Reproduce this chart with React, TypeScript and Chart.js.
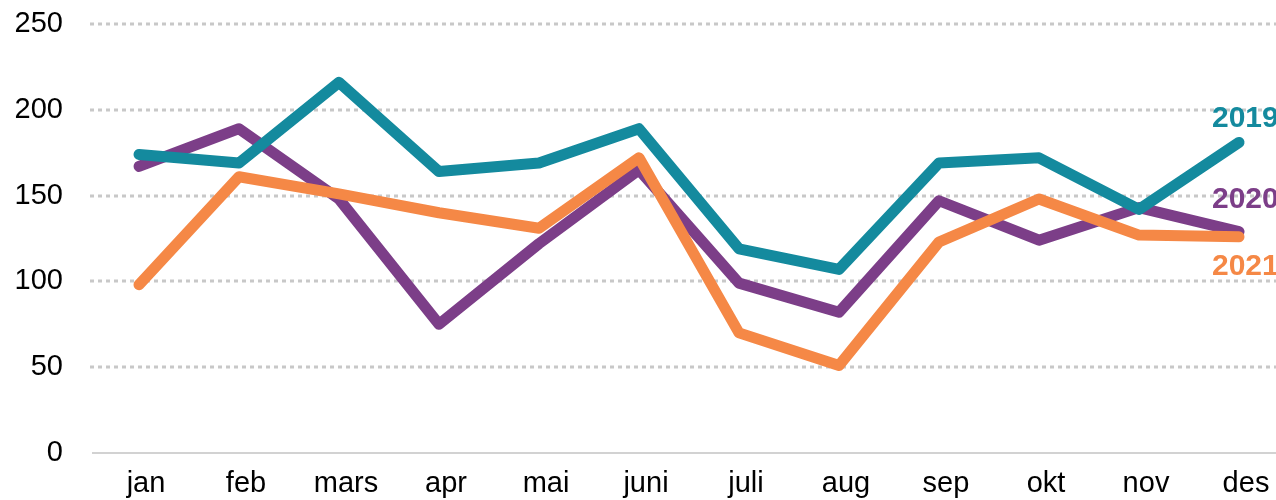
import { useEffect, useRef } from "react";
import { Chart, registerables } from "chart.js";

Chart.register(...registerables);

const months = ["jan", "feb", "mars", "apr", "mai", "juni", "juli", "aug", "sep", "okt", "nov", "des"];
const values2019 = [174, 169, 216, 164, 169, 189, 119, 107, 169, 172, 142, 181];
const values2020 = [167, 189, 148, 75, 122, 165, 99, 82, 147, 124, 143, 129];
const values2021 = [98, 161, 151, 140, 131, 172, 70, 51, 123, 148, 127, 126];
const yTickValues = [0, 50, 100, 150, 200, 250];
const seriesNames = ["2019", "2020", "2021"];

const TEAL = "#148a9e";
const PURPLE = "#7c3e88";
const ORANGE = "#f58846";
const FONT = "'Liberation Sans', Arial, sans-serif";

// pixel offsets of the year labels relative to each series' last point
const labelStyle = [
  { dx: -27, dy: -24, color: TEAL },
  { dx: -27, dy: -32, color: PURPLE },
  { dx: -27, dy: 30, color: ORANGE },
];

const gridPlugin = {
  id: "dottedGrid",
  beforeDatasetsDraw(chart: any) {
    const { ctx, chartArea, scales } = chart;
    const y = scales.y;
    ctx.save();
    for (const v of yTickValues) {
      const py = Math.round(y.getPixelForValue(v));
      ctx.beginPath();
      if (v === 0) {
        ctx.setLineDash([]);
        ctx.strokeStyle = "#d2d2d2";
        ctx.lineWidth = 2;
        ctx.moveTo(chartArea.left + 3, py);
      } else {
        ctx.setLineDash([4, 4]);
        ctx.strokeStyle = "#c8c8c8";
        ctx.lineWidth = 3;
        ctx.moveTo(chartArea.left + 1, py);
      }
      ctx.lineTo(chartArea.right + 20, py);
      ctx.stroke();
    }
    ctx.restore();
  },
};

const yearLabelPlugin = {
  id: "yearLabels",
  afterDatasetsDraw(chart: any) {
    const { ctx } = chart;
    ctx.save();
    ctx.font = `bold 30px ${FONT}`;
    ctx.textAlign = "left";
    ctx.textBaseline = "middle";
    chart.data.datasets.forEach((ds: any, i: number) => {
      const meta = chart.getDatasetMeta(i);
      const pt = meta.data[meta.data.length - 1];
      const st = labelStyle[seriesNames.indexOf(ds.label)];
      ctx.fillStyle = st.color;
      ctx.fillText(ds.label, pt.x + st.dx, pt.y + st.dy);
    });
    ctx.restore();
  },
};

function LineChart() {
  const ref = useRef<HTMLCanvasElement | null>(null);
  useEffect(() => {
    if (!ref.current) return;
    const common = {
      borderWidth: 11,
      pointRadius: 0,
      pointHoverRadius: 0,
      tension: 0,
      borderCapStyle: "round" as const,
      borderJoinStyle: "round" as const,
      fill: false,
    };
    const chart = new Chart(ref.current, {
      type: "line",
      data: {
        labels: months,
        datasets: [
          { label: "2019", data: values2019, borderColor: TEAL, backgroundColor: TEAL, order: 0, ...common },
          { label: "2021", data: values2021, borderColor: ORANGE, backgroundColor: ORANGE, order: 1, ...common },
          { label: "2020", data: values2020, borderColor: PURPLE, backgroundColor: PURPLE, order: 2, ...common },
        ],
      },
      options: {
        animation: false,
        responsive: false,
        maintainAspectRatio: false,
        devicePixelRatio: 1,
        layout: { padding: { top: 24, right: 11, left: 0, bottom: 0 } },
        plugins: { legend: { display: false }, tooltip: { enabled: false } },
        scales: {
          x: {
            offset: true,
            grid: { display: false, drawTicks: false },
            border: { display: false },
            ticks: {
              color: "#000",
              font: { family: FONT, size: 29 },
              padding: 14,
              labelOffset: 7,
              maxRotation: 0,
              autoSkip: false,
            },
            afterFit: (s: any) => {
              s.height = 52;
            },
          },
          y: {
            min: 0,
            max: 250,
            grid: { display: false, drawTicks: false },
            border: { display: false },
            afterBuildTicks: (s: any) => {
              s.ticks = yTickValues.map((v) => ({ value: v }));
            },
            ticks: {
              color: "#000",
              font: { family: FONT, size: 29 },
              padding: 26,
            },
            afterFit: (s: any) => {
              s.width = 89;
              s.paddingTop = 0;
              s.paddingBottom = 0;
            },
          },
        },
      },
      plugins: [gridPlugin, yearLabelPlugin],
    });
    return () => chart.destroy();
  }, []);
  return <canvas ref={ref} width={1300} height={505} style={{ display: "block" }} />;
}

export default function App() {
  return (
    <div
      style={{
        position: "fixed",
        left: 0,
        top: 0,
        width: 1276,
        height: 500,
        overflow: "hidden",
        background: "#fff",
      }}
    >
      <LineChart />
    </div>
  );
}
